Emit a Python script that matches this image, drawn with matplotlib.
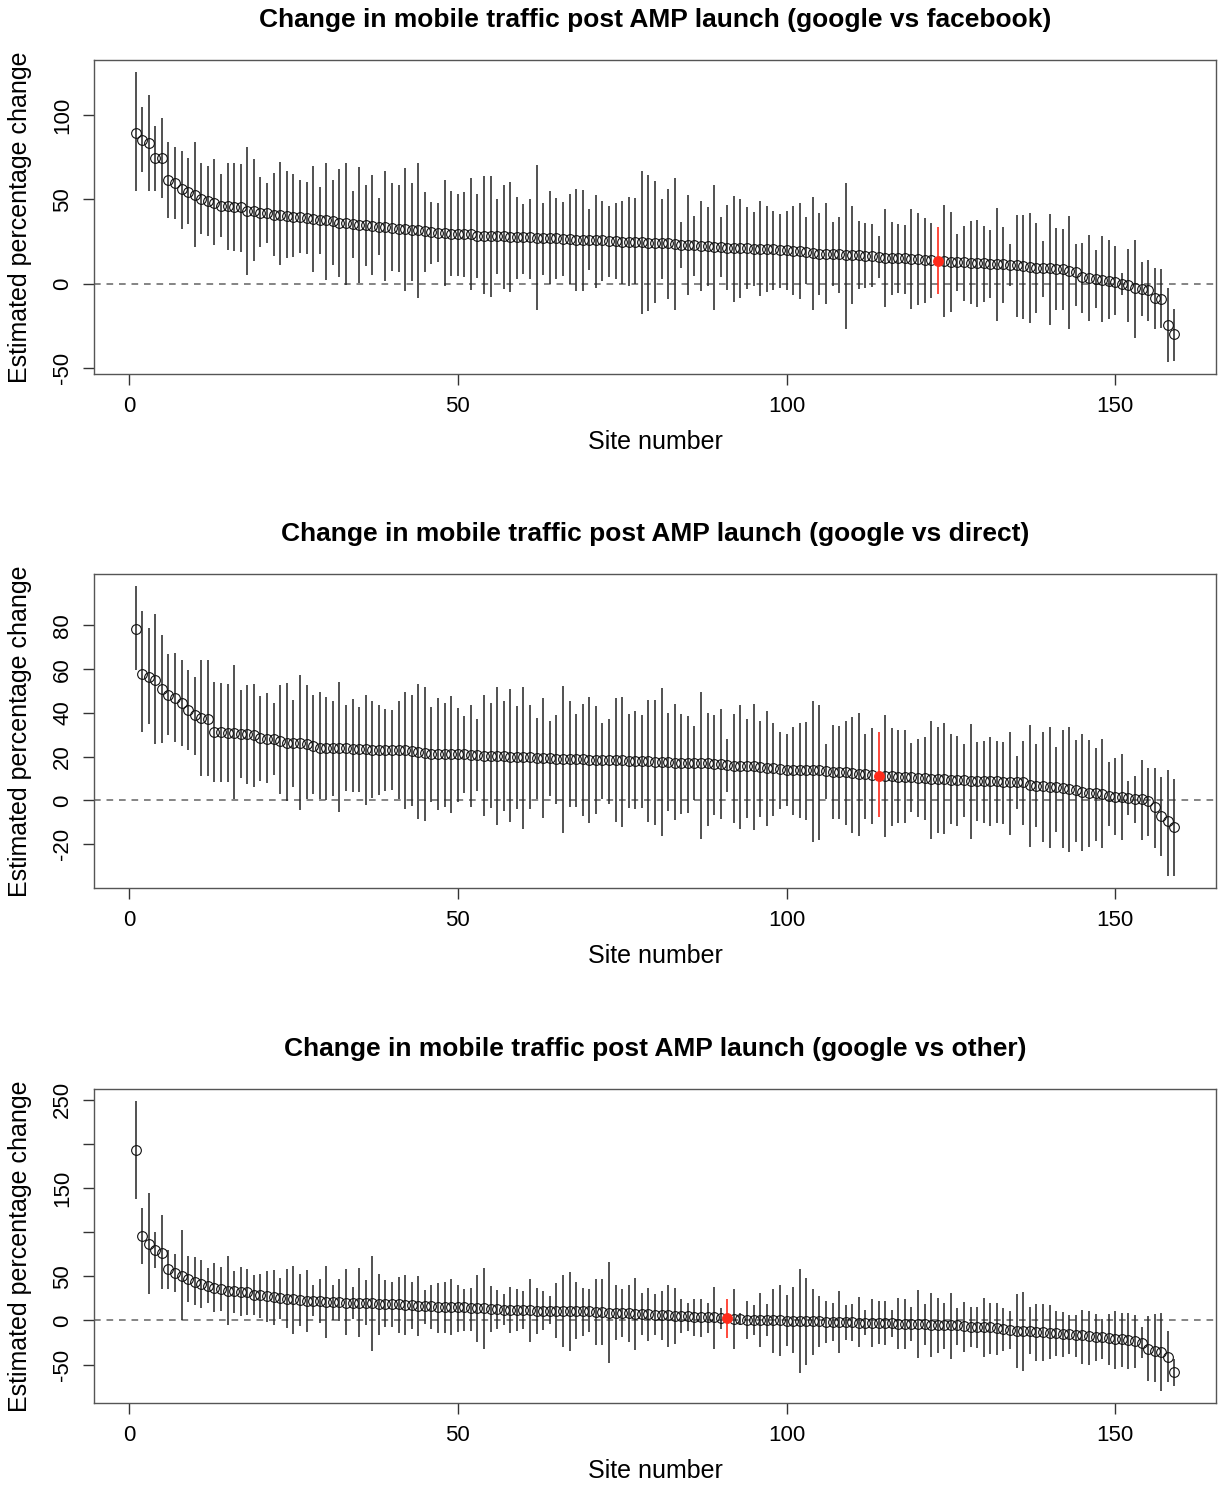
import numpy as np
import matplotlib
matplotlib.use("Agg")
import matplotlib.pyplot as plt

plt.rcParams['font.family'] = ['Liberation Sans', 'DejaVu Sans']

# ---------------- data ----------------
sites = np.arange(1, 160)

titles = ["Change in mobile traffic post AMP launch (google vs facebook)",
          "Change in mobile traffic post AMP launch (google vs direct)",
          "Change in mobile traffic post AMP launch (google vs other)"]
x_label = "Site number"
y_label = "Estimated percentage change"
highlight_site = [123, 114, 91]

est_fb = [89.7, 85.2, 83.4, 74.6, 74.4, 61.3, 59.6, 56.0, 54.4, 52.9,
          50.5, 49.3, 48.1, 46.0, 45.8, 45.4, 45.2, 43.4, 43.0, 42.2,
          41.8, 41.0, 40.8, 40.2, 39.8, 39.4, 39.1, 38.5, 37.7, 37.5,
          37.1, 35.9, 35.9, 35.5, 34.7, 34.7, 34.3, 33.9, 33.5, 33.1,
          32.7, 32.3, 32.0, 31.6, 31.2, 30.4, 30.0, 29.8, 29.6, 29.6,
          29.4, 29.2, 28.4, 28.4, 28.2, 28.0, 28.0, 27.6, 27.6, 27.4,
          27.4, 27.2, 27.2, 27.0, 26.8, 26.6, 26.2, 26.0, 26.0, 25.8,
          25.6, 25.6, 25.4, 25.2, 24.9, 24.9, 24.7, 24.5, 24.3, 24.3,
          24.1, 23.9, 23.5, 23.1, 22.9, 22.7, 22.5, 22.1, 21.7, 21.5,
          21.3, 21.3, 21.1, 20.9, 20.7, 20.7, 20.5, 20.3, 19.9, 19.7,
          19.5, 19.3, 18.9, 18.1, 17.8, 17.6, 17.4, 17.4, 17.2, 17.0,
          16.8, 16.6, 16.2, 15.8, 15.4, 15.2, 15.0, 15.0, 14.8, 14.6,
          14.2, 13.8, 13.4, 13.2, 13.0, 12.8, 12.6, 12.4, 12.2, 12.0,
          11.8, 11.6, 11.4, 11.2, 10.8, 10.5, 9.9, 9.5, 9.3, 9.1,
          8.9, 8.7, 7.5, 7.1, 3.9, 3.2, 2.6, 2.0, 1.2, 0.8,
          0.0, -0.8, -2.4, -3.4, -3.9, -8.7, -9.1, -24.5, -30.0]
hi_fb = [126.0, 104.7, 112.0, 93.9, 98.2, 84.0, 80.9, 78.9, 74.6, 84.4,
         71.8, 69.8, 74.2, 65.1, 71.8, 71.8, 71.0, 81.3, 73.8, 63.5,
         60.0, 65.9, 72.2, 66.7, 65.1, 61.5, 60.4, 69.8, 57.2, 71.8,
         61.5, 67.9, 71.8, 54.8, 69.4, 58.4, 64.3, 50.9, 66.7, 59.6,
         58.4, 68.6, 59.6, 71.8, 54.4, 48.5, 48.1, 61.5, 54.8, 53.3,
         54.4, 62.7, 53.3, 63.9, 63.9, 50.1, 58.8, 60.4, 51.3, 47.3,
         50.1, 70.6, 47.7, 54.8, 50.9, 48.5, 53.3, 56.0, 55.6, 44.2,
         52.9, 48.9, 46.2, 47.7, 48.9, 51.7, 50.9, 67.1, 64.3, 60.7,
         50.1, 56.4, 62.7, 36.7, 52.5, 40.2, 48.9, 45.4, 58.4, 39.4,
         46.9, 52.1, 50.5, 45.4, 42.6, 48.9, 45.8, 43.0, 41.4, 43.0,
         45.8, 47.7, 39.4, 51.3, 41.8, 47.7, 36.3, 39.8, 60.0, 45.8,
         37.1, 35.9, 35.1, 28.0, 44.6, 36.3, 35.1, 34.7, 44.2, 41.8,
         38.7, 35.9, 33.9, 46.9, 42.6, 29.6, 34.3, 37.1, 37.5, 34.3,
         32.0, 45.0, 33.9, 23.7, 41.0, 40.6, 42.2, 35.9, 25.2, 41.4,
         33.1, 32.7, 40.2, 23.3, 24.1, 28.8, 19.7, 28.0, 26.0, 22.1,
         6.3, 20.5, 26.0, 12.6, 14.2, 9.1, 8.7, -2.8, -15.0]
lo_fb = [54.8, 66.3, 55.2, 55.2, 50.9, 38.7, 38.5, 32.3, 35.1, 21.9,
         29.2, 28.2, 22.7, 27.6, 19.7, 19.3, 18.9, 5.1, 13.4, 21.7,
         24.3, 16.6, 11.0, 15.0, 15.8, 17.9, 17.4, 7.1, 17.8, 2.0,
         11.0, 4.1, -0.8, 15.4, 0.4, 10.3, 5.1, 17.0, 1.6, 7.5,
         7.1, -4.3, 1.6, -8.7, 6.7, 11.4, 12.6, -1.6, 4.3, 4.3,
         3.6, -3.9, 3.2, -6.3, -7.9, 5.9, -3.2, -5.1, 2.8, 5.5,
         2.4, -15.8, 5.1, -0.4, 2.4, 4.7, -0.4, -4.3, -4.7, 7.9,
         -2.4, 1.6, 3.9, 2.4, -0.4, -1.2, -0.4, -18.1, -16.6, -11.4,
         2.4, -9.1, -15.8, 9.5, -6.7, 4.7, -4.3, -1.2, -15.8, 3.6,
         -3.9, -11.0, -8.7, -3.2, -1.2, -7.5, -5.1, -3.6, -2.4, -3.9,
         -6.7, -9.1, -0.4, -15.8, -7.1, -12.2, -1.2, -5.5, -26.8, -12.2,
         -3.2, -2.8, -2.0, 3.2, -14.2, -6.7, -5.5, -6.3, -15.0, -12.6,
         -11.4, -8.7, -6.3, -19.7, -17.0, -4.3, -10.3, -12.2, -13.8, -11.0,
         -8.7, -22.5, -11.8, -1.6, -19.7, -20.9, -23.7, -17.4, -7.9, -24.5,
         -15.8, -15.8, -26.8, -13.4, -17.4, -22.5, -14.6, -22.9, -21.3, -18.9,
         -6.7, -22.9, -32.3, -19.3, -22.5, -26.8, -26.4, -46.9, -45.8]

est_dir = [78.3, 58.0, 56.5, 55.0, 50.8, 48.3, 46.7, 44.7, 41.4, 38.9,
           37.7, 37.4, 31.1, 31.1, 30.9, 30.8, 30.6, 30.5, 29.8, 28.6,
           28.3, 28.3, 27.4, 26.2, 26.2, 26.2, 25.6, 25.0, 23.8, 23.8,
           23.8, 23.8, 23.8, 23.6, 23.3, 23.3, 23.2, 23.0, 23.0, 23.0,
           22.9, 22.9, 22.6, 22.0, 21.7, 21.4, 21.4, 21.2, 21.2, 21.1,
           21.1, 20.8, 20.6, 20.5, 20.5, 20.3, 20.2, 19.8, 19.8, 19.8,
           19.7, 19.5, 19.4, 19.4, 19.1, 19.1, 18.9, 18.9, 18.8, 18.6,
           18.6, 18.5, 18.3, 18.3, 18.3, 18.2, 18.0, 18.0, 17.9, 17.7,
           17.4, 17.4, 17.3, 17.1, 17.0, 17.0, 17.0, 17.0, 16.8, 16.5,
           16.2, 15.9, 15.9, 15.6, 15.6, 15.3, 15.0, 14.7, 14.4, 14.1,
           13.9, 13.9, 13.9, 13.8, 13.8, 13.5, 13.2, 13.2, 12.9, 12.6,
           12.3, 12.3, 11.7, 11.4, 11.4, 11.1, 10.9, 10.8, 10.5, 10.2,
           10.2, 9.8, 9.7, 9.6, 9.5, 9.4, 9.2, 8.9, 8.9, 8.9,
           8.9, 8.9, 8.3, 8.3, 8.3, 8.3, 7.1, 6.8, 6.5, 6.2,
           6.2, 5.9, 5.3, 4.7, 3.8, 3.5, 3.2, 2.9, 2.0, 1.7,
           1.4, 1.1, 0.8, 0.5, -0.2, -3.2, -7.1, -9.5, -12.3]
hi_dir = [98.2, 86.5, 78.9, 85.3, 75.6, 67.1, 67.4, 64.1, 59.8, 56.5,
          64.4, 64.1, 54.1, 53.5, 53.2, 61.7, 50.5, 52.6, 53.2, 47.7,
          48.9, 44.7, 52.6, 53.5, 45.9, 57.4, 52.9, 48.0, 49.8, 47.1,
          45.6, 54.1, 43.5, 46.2, 42.9, 48.3, 45.3, 43.8, 42.0, 41.4,
          45.3, 49.8, 48.0, 53.2, 51.7, 42.9, 46.8, 44.4, 47.7, 42.3,
          38.6, 43.8, 37.1, 48.0, 44.4, 52.0, 45.3, 50.8, 43.2, 52.0,
          43.5, 37.7, 46.8, 36.5, 39.2, 52.3, 45.3, 39.5, 44.1, 47.4,
          43.2, 35.3, 37.1, 46.8, 47.4, 39.5, 40.8, 39.2, 45.9, 45.9,
          51.4, 39.8, 44.1, 39.5, 38.6, 34.1, 49.8, 39.8, 38.9, 41.7,
          28.0, 39.5, 43.5, 37.1, 44.1, 36.5, 40.8, 35.3, 31.4, 30.2,
          33.8, 35.3, 35.9, 45.6, 43.8, 25.6, 34.7, 34.1, 36.5, 38.3,
          39.8, 30.5, 33.2, 31.1, 38.9, 33.2, 32.3, 32.3, 26.2, 28.0,
          29.2, 36.2, 33.8, 35.3, 30.5, 29.5, 25.9, 35.0, 26.8, 27.4,
          28.9, 27.4, 26.8, 31.1, 20.2, 27.1, 34.7, 25.6, 31.1, 33.5,
          24.4, 32.0, 33.5, 27.7, 30.5, 27.7, 24.1, 28.0, 17.4, 19.5,
          21.1, 8.9, 11.4, 18.3, 15.0, 15.0, 10.5, 13.8, 9.8]
lo_dir = [59.5, 31.4, 35.0, 25.9, 26.2, 29.8, 26.5, 25.0, 22.9, 20.8,
          11.1, 11.4, 8.6, 8.6, 8.6, 0.5, 10.2, 7.4, 6.2, 8.9,
          8.0, 11.7, 2.9, -0.2, 6.2, -4.4, 0.5, 2.9, 0.5, 0.2,
          2.0, -5.3, 4.4, 3.8, 3.8, -2.3, 1.1, 2.3, 4.1, 5.0,
          0.5, -4.1, -2.6, -8.6, -9.5, -0.5, -4.4, -2.9, -5.6, -0.5,
          3.5, -3.2, 4.1, -7.1, -3.5, -11.1, -4.7, -9.8, -3.8, -12.9,
          -3.8, 0.5, -8.0, 2.0, -1.4, -14.7, -2.9, -2.9, -7.1, -10.2,
          -6.2, 0.5, -1.7, -9.8, -12.0, -3.5, -3.8, -3.5, -9.8, -11.1,
          -16.2, -5.0, -8.9, -6.2, -5.6, 0.2, -17.4, -11.7, -6.8, -8.3,
          3.8, -10.2, -13.2, -8.0, -13.5, -7.4, -11.7, -7.1, -4.1, -2.6,
          -6.5, -8.0, -8.9, -18.9, -18.0, 0.8, -8.3, -8.6, -11.4, -15.0,
          -16.2, -8.3, -10.8, -7.7, -16.5, -11.7, -10.5, -10.2, -5.3, -7.7,
          -8.9, -17.7, -14.7, -15.3, -10.8, -11.7, -7.4, -17.7, -9.5, -10.2,
          -11.7, -10.5, -10.8, -15.9, -4.1, -11.4, -21.4, -12.3, -19.2, -21.7,
          -14.4, -21.7, -23.5, -18.9, -23.2, -21.1, -18.6, -21.7, -11.7, -15.6,
          -18.0, -6.8, -10.5, -18.3, -16.2, -21.7, -25.3, -34.7, -34.4]

est_oth = [192.7, 95.8, 86.3, 80.3, 76.5, 58.1, 53.2, 50.2, 46.4, 44.1,
           41.1, 38.8, 36.6, 35.8, 33.6, 33.6, 32.1, 32.1, 29.0, 28.3,
           27.5, 26.0, 25.3, 24.5, 24.5, 23.0, 22.2, 21.5, 21.5, 20.7,
           20.7, 20.7, 20.0, 20.0, 20.0, 19.2, 19.2, 18.5, 18.5, 18.5,
           18.1, 17.7, 17.0, 16.6, 16.2, 15.8, 15.5, 15.5, 15.1, 15.1,
           14.7, 14.3, 14.0, 14.0, 13.2, 12.8, 12.1, 11.7, 11.7, 11.3,
           11.3, 10.9, 10.9, 10.6, 10.6, 10.6, 10.2, 10.2, 10.2, 10.2,
           9.8, 9.4, 9.0, 8.7, 7.9, 7.9, 7.5, 7.2, 6.8, 6.4,
           5.7, 5.7, 5.3, 4.9, 4.5, 4.1, 4.1, 3.8, 3.4, 2.6,
           2.3, 1.9, 1.1, 0.8, 0.8, 0.4, 0.4, 0.0, 0.0, -0.4,
           -0.4, -0.8, -0.8, -1.1, -1.1, -1.5, -1.9, -1.9, -2.3, -2.3,
           -2.6, -2.6, -3.0, -3.0, -3.4, -3.4, -3.8, -4.1, -4.1, -4.1,
           -4.5, -4.9, -5.7, -5.7, -5.7, -5.7, -6.4, -7.2, -7.2, -7.9,
           -7.9, -8.7, -10.2, -10.9, -11.7, -11.7, -12.4, -13.2, -13.2, -14.0,
           -14.7, -15.5, -15.5, -16.2, -17.0, -17.7, -18.5, -19.2, -20.0, -20.7,
           -21.5, -22.2, -23.0, -25.3, -32.1, -34.3, -35.8, -41.1, -58.4]
hi_oth = [248.9, 127.8, 144.4, 100.7, 119.5, 79.6, 75.0, 102.9, 73.5, 72.0,
          69.0, 59.2, 64.5, 60.0, 73.5, 56.2, 60.0, 58.4, 50.9, 52.4,
          56.2, 56.9, 48.6, 57.7, 62.2, 52.4, 56.9, 39.6, 46.4, 61.5,
          39.6, 47.1, 58.4, 38.1, 59.2, 45.6, 73.5, 52.4, 45.6, 43.4,
          49.4, 50.9, 43.4, 50.2, 34.3, 40.3, 41.9, 43.4, 46.4, 40.3,
          35.8, 36.6, 50.9, 59.2, 38.8, 34.3, 29.8, 38.1, 35.1, 32.8,
          46.4, 36.6, 32.8, 27.5, 41.9, 50.9, 55.4, 43.4, 37.3, 35.1,
          47.1, 47.1, 66.7, 39.6, 35.1, 40.3, 48.6, 31.3, 36.6, 29.8,
          33.6, 40.3, 36.6, 24.5, 19.2, 24.5, 24.5, 19.2, 38.1, 14.0,
          24.5, 35.8, 8.7, 22.2, 17.7, 31.3, 18.5, 35.8, 39.6, 28.3,
          38.1, 57.7, 48.6, 35.8, 27.5, 22.2, 20.0, 32.8, 17.7, 18.5,
          26.0, 11.7, 23.8, 21.5, 21.5, 12.4, 25.3, 23.8, 14.7, 34.3,
          18.5, 31.3, 25.3, 20.0, 31.3, 14.0, 20.7, 15.5, 15.5, 25.3,
          19.2, 20.0, 14.0, 10.2, 30.5, 32.1, 14.7, 18.5, 18.5, 17.7,
          10.9, 9.4, 5.7, 6.4, 11.7, 10.9, 7.2, 1.9, 7.2, 10.9,
          7.9, 8.7, 6.4, -7.2, 4.9, 7.2, 7.9, -12.4, -44.1]
lo_oth = [137.6, 64.1, 29.8, 59.2, 35.1, 35.8, 32.1, 0.0, 20.7, 17.7,
          14.0, 19.2, 9.4, 10.9, -5.7, 7.9, 4.9, 5.7, 5.7, 2.6,
          -1.9, -4.9, 1.1, -8.7, -15.5, -6.4, -13.2, 4.9, -2.6, -20.0,
          0.4, -1.1, -17.0, 1.1, -18.5, -4.9, -34.3, -16.2, -7.9, -7.2,
          -14.0, -16.2, -10.2, -17.7, -4.1, -10.2, -14.0, -14.0, -17.0, -13.2,
          -11.7, -12.4, -24.5, -32.8, -13.2, -9.4, -5.7, -14.7, -12.4, -9.4,
          -24.5, -15.5, -10.9, -4.1, -20.0, -29.8, -35.1, -20.7, -17.7, -13.2,
          -27.5, -27.5, -47.9, -22.2, -19.2, -24.5, -33.6, -17.0, -23.8, -17.0,
          -22.2, -29.8, -26.8, -14.7, -11.7, -17.7, -18.5, -14.0, -32.1, -9.4,
          -20.0, -32.1, -5.7, -20.7, -17.0, -29.8, -17.7, -36.6, -40.3, -29.0,
          -37.3, -59.2, -50.9, -38.8, -30.5, -25.3, -23.8, -36.6, -22.2, -23.8,
          -30.5, -16.2, -29.8, -26.8, -27.5, -19.2, -32.1, -32.1, -23.0, -42.6,
          -27.5, -41.1, -37.3, -32.1, -44.1, -27.5, -35.8, -30.5, -31.3, -41.9,
          -38.1, -38.8, -35.1, -32.1, -53.9, -56.9, -38.1, -45.6, -46.4, -44.1,
          -40.3, -41.1, -38.1, -41.1, -49.4, -50.2, -45.6, -44.1, -50.9, -55.4,
          -53.2, -55.4, -53.9, -42.6, -69.0, -69.8, -80.3, -69.8, -74.3]

x_ticks = [0, 50, 100, 150]
y_ticks = [[-50, 0, 50, 100],
           [-20, 0, 20, 40, 60, 80],
           [-50, 0, 50, 100, 150, 200, 250]]
y_ticklabels = [["-50", "0", "50", "100"],
                ["-20", "0", "20", "40", "60", "80"],
                ["-50", "0", "50", "", "150", "", "250"]]

panels = [(est_fb, lo_fb, hi_fb), (est_dir, lo_dir, hi_dir), (est_oth, lo_oth, hi_oth)]

# ---------------- layout ----------------
W, H = 1218, 1485
fig = plt.figure(figsize=(W / 100, H / 100), dpi=100)
box_px = [(60, 374), (574, 888), (1089, 1403)]
left_px, right_px = 94, 1216

for i, (est, lo, hi) in enumerate(panels):
    top, bot = box_px[i]
    ax = fig.add_axes([left_px / W, 1 - bot / H, (right_px - left_px) / W, (bot - top) / H])
    est = np.asarray(est); lo = np.asarray(lo); hi = np.asarray(hi)
    hl = highlight_site[i]
    mask = sites != hl

    ax.axhline(0, color='#707070', lw=1.2, ls=(0, (4, 3.5)), zorder=1)
    ax.vlines(sites[mask], lo[mask], hi[mask], color='#2a2a2a', lw=1.15, zorder=2)
    ax.plot(sites[mask], est[mask], 'o', ms=7, mfc='none', mec='#111111', mew=0.8, zorder=3)
    j = hl - 1
    ax.vlines([hl], [lo[j]], [hi[j]], color='#ff2a1a', lw=1.2, zorder=4)
    ax.plot([hl], [est[j]], 'o', ms=7, mfc='#ff2a1a', mec='#ff2a1a', mew=0.8, zorder=5)

    # R-style 4% padding
    ymin, ymax = lo.min(), hi.max()
    pad = 0.04 * (ymax - ymin)
    ax.set_ylim(ymin - pad, ymax + pad)
    ax.set_xlim(1 - 0.04 * 158, 159 + 0.04 * 158)

    ax.set_xticks(x_ticks)
    ax.set_xticklabels([str(t) for t in x_ticks], fontsize=16)
    ax.set_yticks(y_ticks[i])
    ax.set_yticklabels(y_ticklabels[i], fontsize=16, rotation=90, va='center')
    ax.tick_params(axis='both', direction='out', length=8, width=1, color='#333333')
    ax.tick_params(axis='x', pad=8)
    ax.tick_params(axis='y', pad=7)
    for s in ax.spines.values():
        s.set_color('#555555')
        s.set_linewidth(1.0)

    hpx = bot - top
    wpx = right_px - left_px
    ax.set_xlabel(x_label, fontsize=18)
    ax.xaxis.set_label_coords(0.5, -68 / hpx)
    ax.xaxis.label.set_va('center')
    ax.set_ylabel(y_label, fontsize=18)
    ax.yaxis.set_label_coords((20 - left_px) / wpx, 0.5)
    ax.yaxis.label.set_va('center')

    ax.text(0.5, 1 + 40 / hpx, titles[i], transform=ax.transAxes, ha='center', va='center',
            fontsize=19, fontweight='bold')

fig.savefig("out.png", dpi=100)
